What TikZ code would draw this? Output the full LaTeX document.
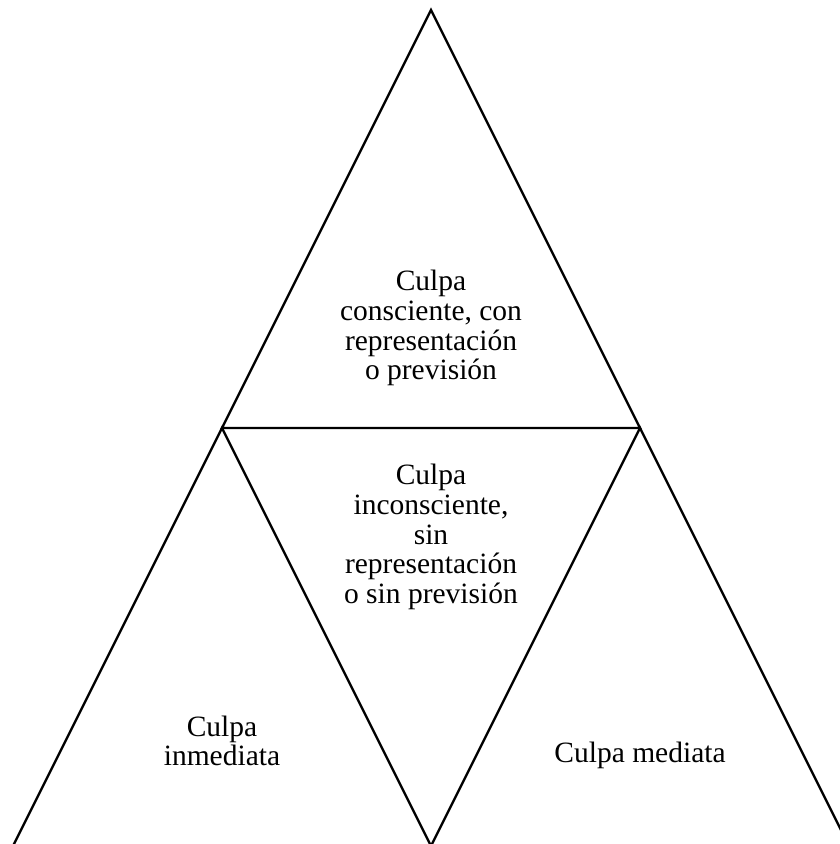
\documentclass[tikz,border=0pt]{standalone}
\usepackage{fontspec}
\setmainfont{Liberation Serif}
\begin{document}
\begin{tikzpicture}[x=1pt,y=-1pt,
  edge/.style={line width=2.4pt,line join=miter},
  label/.style={align=center,inner sep=0pt,
    font=\fontsize{29.5}{29.8}\selectfont}]
  \useasboundingbox (0,0) rectangle (840,844);
  \clip (0,0) rectangle (840,844);
  % corner points of the triangles
  \coordinate (A)  at (431,10);
  \coordinate (L)  at (222,428);
  \coordinate (R)  at (640,428);
  \coordinate (BL) at (13,846);
  \coordinate (BM) at (431,846);
  \coordinate (BR) at (849,846);
  % upper triangle and the zig-zag below it
  \draw[edge] (A) -- (L) -- (R) -- cycle;
  \draw[edge] (BL) -- (L) -- (BM) -- (R) -- (BR);
  % labels
  \node[label] (top) at (431,328) {Culpa\\consciente, con\\representación\\o previsión};
  \node[label] (mid) at (431,537) {Culpa\\inconsciente,\\sin\\representación\\o sin previsión};
  \node[label] (lft) at (222,741) {Culpa\\inmediata};
  \node[label] (rgt) at (640,755) {Culpa mediata};
\end{tikzpicture}
\end{document}
